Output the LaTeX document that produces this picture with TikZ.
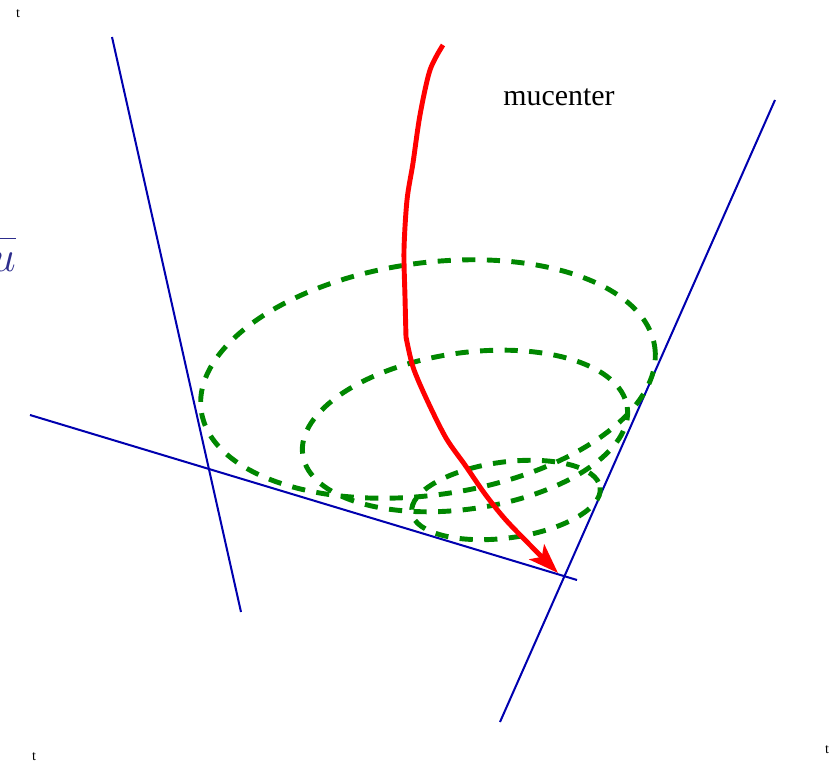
\documentclass[tikz,border=0pt]{standalone}
\usepackage{fontspec}
\setmainfont{Liberation Serif}
\usetikzlibrary{arrows.meta}
\definecolor{axisblue}{RGB}{0,0,175}
\definecolor{spiralgreen}{RGB}{0,135,0}
\definecolor{ublue}{RGB}{45,45,140}
\tikzset{
  axisline/.style={draw=axisblue, line width=1.15pt},
  loopdash/.style={draw=spiralgreen, line width=2.8pt, dash pattern=on 7.5pt off 6.5pt},
  flowline/.style={draw=red, line width=2.8pt, -{Stealth[length=17pt,width=12pt,inset=4pt]}},
  smalllabel/.style={font=\fontsize{8}{8}\selectfont, inner sep=0pt},
}
\begin{document}
\begin{tikzpicture}[x=0.02cm, y=-0.02cm]
\useasboundingbox (0,0) rectangle (840,764);
% corner labels
\node[smalllabel] (tA) at (18,14) {t};
\node[smalllabel] (tB) at (34,757) {t};
\node[smalllabel] (tC) at (827,750) {t};
% cut-off symbol at the left edge
\node[anchor=base east, text=ublue, inner sep=0pt, font=\fontsize{30}{30}\selectfont] (ubar) at (16,271) {$\overline{u\vphantom{b}}$};
% axes
\coordinate (a1) at (112,37);  \coordinate (b1) at (241,612);
\coordinate (a2) at (30,415);  \coordinate (b2) at (577,580);
\coordinate (a3) at (775,100); \coordinate (b3) at (500,722);
\draw[axisline] (a1) -- (b1);
\draw[axisline] (a2) -- (b2);
\draw[axisline] (a3) -- (b3);
% dashed loops
\coordinate (c1) at (428,379);
\coordinate (c2) at (465,431);
\coordinate (c3) at (506,500);
\draw[loopdash, rotate around={8:(c1)}] (c1) ellipse [x radius=229, y radius=116];
\draw[loopdash, rotate around={8.4:(c2)}] (c2) ellipse [x radius=164, y radius=78];
\draw[loopdash, rotate around={7.6:(c3)}] (c3) ellipse [x radius=95, y radius=38];
% red flow line
\draw[flowline] plot[smooth, tension=0.5] coordinates {(443,45) (430,70) (420,115) (413,163) (407,200) (404,250) (405,297) (406,337)}
  -- plot[smooth, tension=0.5] coordinates {(406,337) (413,367) (427,400) (446,438) (465,465) (485,494) (505,519) (530,545) (558,573)};
\node[font=\fontsize{17}{17}\selectfont, anchor=base, inner sep=0pt] (mu) at (559,106) {mucenter};
\end{tikzpicture}
\end{document}
